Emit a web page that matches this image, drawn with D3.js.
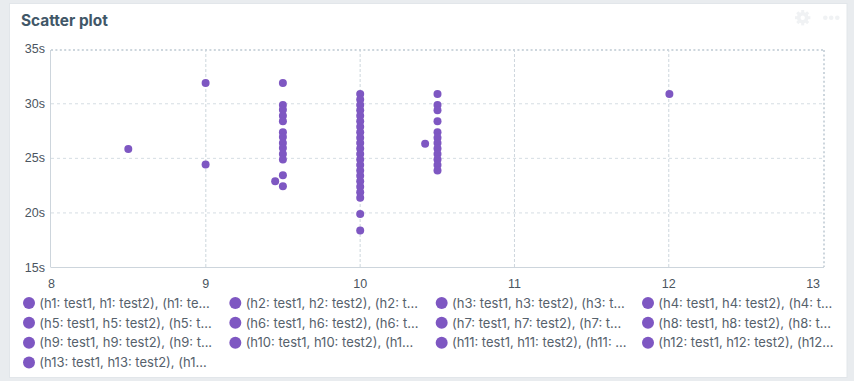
<!DOCTYPE html>
<html>
<head>
<meta charset="utf-8">
<script src="https://cdn.jsdelivr.net/npm/d3@7"></script>
<style>
  html, body { margin: 0; padding: 0; background: #e9ecef; }
  svg { display: block; font-family: Inter, sans-serif; }
  .grid line { stroke: #cdd6dd; }
  .grid.v line { stroke-dasharray: 3 2; }
  .grid.h line { stroke: #d5dde3; stroke-dasharray: 3 3; }
  .grid path { display: none; }
  .ticks text { fill: #4a5560; font-size: 12.5px; }
  .ticks line, .ticks path { display: none; }
</style>
</head>
<body>
<svg id="chart" width="854" height="381"></svg>
<script>
const xDomain = [8, 13];
const yDomain = [15, 35];
const xTicks = [8, 9, 10, 11, 12, 13];
const yTicks = [15, 20, 25, 30, 35];

const xs = [
  8.5, 9, 9,
  9.45, 9.5, 9.5, 9.5, 9.5, 9.5, 9.5, 9.5, 9.5, 9.5, 9.5, 9.5, 9.5, 9.5,
  10, 10, 10, 10, 10, 10, 10, 10, 10, 10, 10, 10, 10, 10, 10, 10, 10, 10, 10, 10, 10, 10,
  10.42, 10.5, 10.5, 10.5, 10.5, 10.5, 10.5, 10.5, 10.5, 10.5, 10.5, 10.5, 10.5,
  12
];
const ys = [
  25.8, 24.4, 31.85,
  22.85, 31.85, 29.85, 29.4, 28.85, 28.35, 27.35, 26.9, 26.35, 25.9, 25.35, 24.85, 23.4, 22.4,
  30.85, 30.35, 29.85, 29.35, 28.85, 28.35, 27.85, 27.35, 26.85, 26.35, 25.85, 25.35, 24.85, 24.35, 23.85, 23.35, 22.85, 22.35, 21.85, 21.35, 19.85, 18.35,
  26.3, 30.85, 29.85, 29.35, 28.35, 27.35, 26.85, 26.35, 25.85, 25.35, 24.85, 24.35, 23.85,
  30.85
];

const legendLabels = [
  '(h1: test1, h1: test2), (h1: te...', '(h2: test1, h2: test2), (h2: t...', '(h3: test1, h3: test2), (h3: t...', '(h4: test1, h4: test2), (h4: t...',
  '(h5: test1, h5: test2), (h5: t...', '(h6: test1, h6: test2), (h6: t...', '(h7: test1, h7: test2), (h7: t...', '(h8: test1, h8: test2), (h8: t...',
  '(h9: test1, h9: test2), (h9: t...', '(h10: test1, h10: test2), (h1...', '(h11: test1, h11: test2), (h11: ...', '(h12: test1, h12: test2), (h12...',
  '(h13: test1, h13: test2), (h1...'
];

const PURPLE = '#7e57c2';
const svg = d3.select('#chart');

// panel
svg.append('rect').attr('x', 9.5).attr('y', 3.5).attr('width', 837.5).attr('height', 374)
  .attr('fill', '#fff').attr('stroke', '#e2e6ea');
svg.append('text').attr('x', 21).attr('y', 26).attr('font-size', 15.4).attr('font-weight', 700)
  .attr('fill', '#415768').text('Scatter plot');

// header icons, barely visible in the original
const ICON = '#f0f2f4';
const icons = svg.append('g').attr('fill', ICON);
d3.range(8).forEach(i => {
  icons.append('rect').attr('x', 801.2).attr('y', 10).attr('width', 3).attr('height', 3)
    .attr('transform', `rotate(${i * 45} 802.7 17.7)`);
});
icons.append('circle').attr('cx', 802.7).attr('cy', 17.7).attr('r', 4).attr('fill', 'none').attr('stroke', ICON).attr('stroke-width', 3.6);
[825.3, 831.2, 837.3].forEach(cx => icons.append('circle').attr('cx', cx).attr('cy', 17.7).attr('r', 2.3));

const plotL = 51, plotR = 824, plotT = 48.7, plotB = 267;
const frameT = 50, gridR = 822.6;
const x = d3.scaleLinear().domain(xDomain).range([plotL, plotR]);
const xGrid = d3.scaleLinear().domain(xDomain).range([plotL, gridR]);
const y = d3.scaleLinear().domain(yDomain).range([plotB, plotT]);

// grid
svg.append('g').attr('class', 'grid v').attr('transform', `translate(0,${plotB})`)
  .call(d3.axisBottom(xGrid).tickValues(xTicks.slice(1, -1)).tickSize(frameT - plotB).tickFormat(''));
svg.append('g').attr('class', 'grid h').attr('transform', `translate(${plotL},0)`)
  .call(d3.axisLeft(y).tickValues(yTicks.slice(1, -1)).tickSize(plotL - plotR).tickFormat(''));

// frame: dotted top and right, solid left and bottom
svg.append('line').attr('x1', plotL).attr('x2', plotR).attr('y1', frameT).attr('y2', frameT)
  .attr('stroke', '#cdd6dd').attr('stroke-width', 2).attr('stroke-dasharray', '2 2.4');
svg.append('line').attr('x1', plotR).attr('x2', plotR).attr('y1', frameT).attr('y2', plotB)
  .attr('stroke', '#cdd6dd').attr('stroke-width', 2).attr('stroke-dasharray', '2 2.4');
svg.append('line').attr('x1', plotL - 0.5).attr('x2', plotL - 0.5).attr('y1', frameT).attr('y2', plotB + 0.5)
  .attr('stroke', '#cdd5dc');
svg.append('line').attr('x1', plotL).attr('x2', plotR).attr('y1', plotB + 0.5).attr('y2', plotB + 0.5)
  .attr('stroke', '#cdd5dc');

// tick labels
const xAxis = svg.append('g').attr('class', 'ticks').attr('transform', `translate(0,${plotB})`)
  .call(d3.axisBottom(xGrid).tickValues(xTicks).tickSize(0).tickPadding(12).tickFormat(d => d));
xAxis.select('.domain').remove();
xAxis.selectAll('text').filter(d => d === 13).attr('dx', -10);
const yAxis = svg.append('g').attr('class', 'ticks').attr('transform', `translate(${plotL},0)`)
  .call(d3.axisLeft(y).tickValues(yTicks).tickSize(0).tickPadding(6).tickFormat(d => d + 's'));
yAxis.select('.domain').remove();

// points
svg.append('g').selectAll('circle').data(xs).join('circle')
  .attr('cx', d => x(d)).attr('cy', (d, i) => y(ys[i])).attr('r', 4).attr('fill', PURPLE);

// legend
const colX = d3.scalePoint().domain([0, 1, 2, 3]).range([29, 648]);
const rowY = d3.scalePoint().domain([0, 1, 2, 3]).range([303, 362.5]);
const items = svg.append('g').selectAll('g').data(legendLabels).join('g')
  .attr('transform', (d, i) => `translate(${colX(i % 4)},${rowY(Math.floor(i / 4))})`);
items.append('circle').attr('r', 6).attr('fill', PURPLE);
items.append('text').attr('x', 10.3).attr('dy', '0.36em').attr('font-size', 13)
  .attr('fill', '#56616c').text(d => d);
</script>
</body>
</html>
